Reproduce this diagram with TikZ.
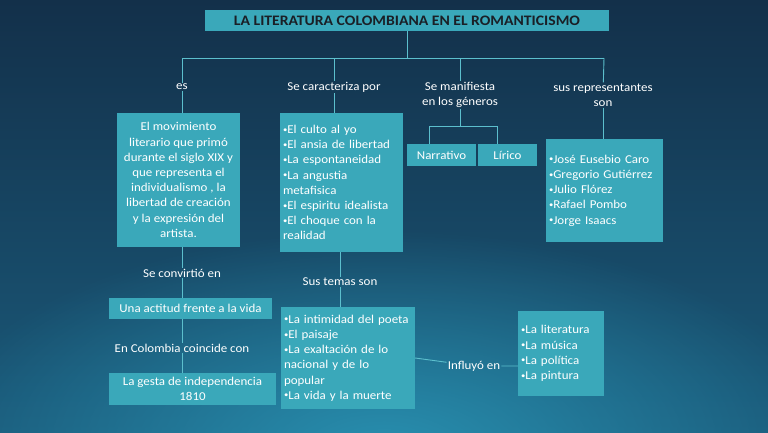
\documentclass[tikz,border=0pt]{standalone}
\usepackage{fontspec}
\setmainfont{Carlito}[FakeStretch=1.08]
\usetikzlibrary{fadings}
\definecolor{bgtop}{HTML}{13304A}
\definecolor{bgbot}{HTML}{1A5A7A}
\definecolor{glow}{HTML}{2A95B5}
\definecolor{boxc}{HTML}{3AA8BA}
\definecolor{linec}{HTML}{5CBFCD}
\definecolor{titletext}{HTML}{1A1F26}
\tikzfading[name=glowfade, inner color=transparent!0, outer color=transparent!100]
\newcommand\bodyfont{\fontsize{12}{15.2}\selectfont}
\newcommand\bul{{\fontsize{8}{8}\selectfont\raisebox{0.35ex}{•}}}
\begin{document}
\begin{tikzpicture}[x=1pt,y=-1pt,
  box/.style={fill=boxc, text=white, inner sep=0pt, font=\bodyfont},
  listbox/.style={box, align=left, inner xsep=3pt},
  cbox/.style={box, align=center},
  titlebox/.style={fill=boxc, text=titletext, inner sep=0pt, font=\fontsize{14.5}{16}\selectfont\bfseries},
  lbl/.style={text=white, font=\bodyfont, inner sep=1pt, align=center},
  conn/.style={draw=linec, line width=0.9pt}]
\begin{scope}
\clip (0,0) rectangle (768,432);
\fill[top color=bgtop, bottom color=bgbot] (0,0) rectangle (768,432);
\fill[glow, path fading=glowfade, fill opacity=0.9] (384,450) ellipse [x radius=460pt, y radius=220pt];
\end{scope}
\useasboundingbox (0,0) rectangle (768,432);

% boxes
\node[titlebox, minimum width=404, minimum height=21] (title) at (407,20.5) {LA LITERATURA COLOMBIANA EN EL ROMANTICISMO};
\node[cbox, minimum width=123, minimum height=134] (mov) at (178.5,180) {El movimiento\\literario que primó\\durante el siglo XIX y\\que representa el\\individualismo , la\\libertad de creación\\y la expresión del\\artista.};
\node[listbox, text width=117, minimum height=139] (car) at (341.5,182.5) {\bul El culto al yo\\\bul El ansia de libertad\\\bul La espontaneidad\\\bul La angustia\\metafisica\\\bul El espiritu idealista\\\bul El choque con la\\realidad};
\node[cbox, minimum width=69, minimum height=22] (nar) at (441.5,155) {Narrativo};
\node[cbox, minimum width=59, minimum height=22] (lir) at (507.5,155) {Lírico};
\node[listbox, text width=111, minimum height=103] (rep) at (604.5,190.5) {\bul José Eusebio Caro\\\bul Gregorio Gutiérrez\\\bul Julio Flórez\\\bul Rafael Pombo\\\bul Jorge Isaacs};
\node[cbox, minimum width=163, minimum height=21] (act) at (190.5,308.5) {Una actitud frente a la vida};
\node[cbox, minimum width=167, minimum height=32] (ges) at (192.5,389) {La gesta de independencia\\1810};
\node[listbox, text width=128, minimum height=102] (tem) at (348,358) {\bul La intimidad del poeta\\\bul El paisaje\\\bul La exaltación de lo\\nacional y de lo\\popular\\\bul La vida y la muerte};
\node[listbox, text width=80, minimum height=85] (inf) at (561,353.5) {\bul La literatura\\\bul La música\\\bul La política\\\bul La pintura};

% labels
\node[lbl] (les) at (182,87) {es};
\node[lbl] (lcar) at (334,87) {Se caracteriza por};
\node[lbl] (lman) at (460,95) {Se manifiesta\\en los géneros};
\node[lbl] (lrep) at (603,95) {sus representantes\\son};
\node[lbl] (lconv) at (182,273) {Se convirtió en};
\node[lbl] (lcol) at (182,348) {En Colombia coincide con};
\node[lbl] (ltem) at (340,282) {Sus temas son};
\node[lbl] (linfl) at (474,366) {Influyó en};

% connectors
\coordinate (hub) at (407,58);
\coordinate (hl) at (182,58);
\coordinate (h2) at (334,58);
\coordinate (h3) at (460,58);
\coordinate (hr) at (604,58);
\coordinate (gl) at (429,126);
\coordinate (gm) at (460,126);
\coordinate (gr) at (497,126);
\draw[conn] (title) -- (hub);
\draw[conn] (hl) -- (hr);
\draw[conn] (hl) -- (les);
\draw[conn] (h2) -- (lcar);
\draw[conn] (h3) -- (lman);
\draw[conn] (hr) -- (lrep);
\draw[conn] (les) -- (les |- mov.north);
\draw[conn] (lcar) -- (lcar |- car.north);
\draw[conn] (lman) -- (gm);
\draw[conn] (gl) -- (gr);
\draw[conn] (gl) -- (gl |- nar.north);
\draw[conn] (gr) -- (gr |- lir.north);
\draw[conn] (lrep) -- (lrep |- rep.north);
\draw[conn] (mov.south -| lconv) -- (lconv) -- (lconv |- act.north);
\draw[conn] (act.south -| lcol) -- (lcol) -- (lcol |- ges.north);
\draw[conn] (car.south -| ltem) -- (ltem) -- (ltem |- tem.north);
\draw[conn] (tem.east) -- (linfl) -- ([yshift=-12.5pt]inf.west);
\end{tikzpicture}
\end{document}
